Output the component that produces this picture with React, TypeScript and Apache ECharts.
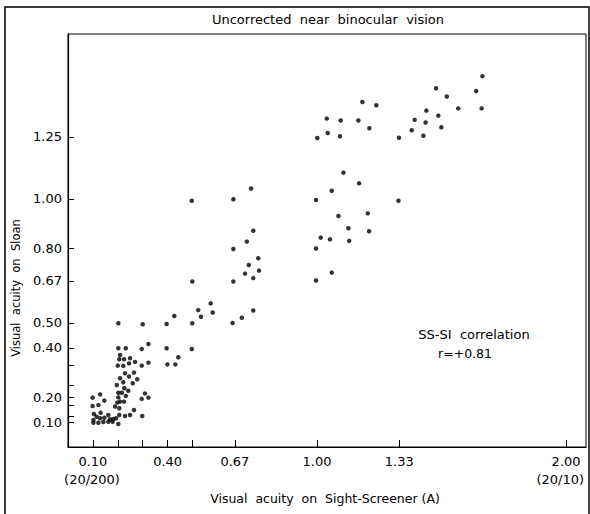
import React, { useEffect, useRef } from "react";
import * as echarts from "echarts";

// Sight-Screener (x) vs Sloan (y) acuity
const lowCluster: number[][] = [
  [0.099, 0.199], [0.129, 0.212], [0.146, 0.187], [0.099, 0.165], [0.122, 0.169],
  [0.104, 0.133], [0.131, 0.138], [0.115, 0.122], [0.129, 0.116], [0.146, 0.118],
  [0.162, 0.129], [0.169, 0.112], [0.182, 0.113], [0.193, 0.116], [0.206, 0.129],
  [0.229, 0.125], [0.249, 0.129], [0.298, 0.125], [0.102, 0.109], [0.102, 0.098],
  [0.122, 0.098], [0.142, 0.101], [0.162, 0.102], [0.179, 0.102], [0.202, 0.093],
];
const riseCluster: number[][] = [
  [0.202, 0.398], [0.232, 0.398], [0.296, 0.395], [0.323, 0.415], [0.209, 0.371],
  [0.206, 0.354], [0.225, 0.354], [0.249, 0.358], [0.269, 0.343], [0.323, 0.34],
  [0.2, 0.328], [0.222, 0.327], [0.245, 0.337], [0.296, 0.328], [0.229, 0.297],
  [0.265, 0.3], [0.209, 0.277], [0.245, 0.284], [0.278, 0.273], [0.222, 0.261],
  [0.196, 0.25], [0.26, 0.257], [0.226, 0.237], [0.242, 0.227], [0.202, 0.219],
  [0.216, 0.219], [0.202, 0.2], [0.232, 0.206], [0.225, 0.183], [0.209, 0.183],
  [0.198, 0.179], [0.189, 0.163], [0.206, 0.156], [0.265, 0.149], [0.296, 0.194],
  [0.309, 0.216], [0.323, 0.199],
];
const midCluster: number[][] = [
  [0.396, 0.398], [0.497, 0.395], [0.399, 0.333], [0.431, 0.333], [0.443, 0.362],
  [0.202, 0.499], [0.3, 0.495], [0.396, 0.496], [0.499, 0.499], [0.427, 0.528],
  [0.523, 0.552], [0.534, 0.525], [0.573, 0.579], [0.581, 0.542], [0.744, 0.55],
  [0.698, 0.521], [0.661, 0.5], [0.499, 0.667], [0.664, 0.667], [0.744, 0.681],
  [0.711, 0.699], [0.767, 0.711], [0.726, 0.734], [0.764, 0.761], [0.664, 0.798],
  [0.718, 0.828], [0.744, 0.872], [0.497, 0.993], [0.664, 0.999], [0.735, 1.042],
];
const highCluster: number[][] = [
  [0.996, 0.671], [1.059, 0.703], [0.996, 0.8], [1.015, 0.844], [1.052, 0.837],
  [1.129, 0.831], [1.126, 0.882], [1.209, 0.87], [1.086, 0.931], [1.204, 0.942],
  [0.996, 0.996], [1.059, 1.033], [1.169, 1.063], [1.106, 1.106], [1.327, 0.993],
  [1.001, 1.246], [1.043, 1.266], [1.092, 1.253], [1.039, 1.324], [1.095, 1.316],
  [1.166, 1.316], [1.182, 1.391], [1.238, 1.378], [1.21, 1.285], [1.329, 1.247],
  [1.38, 1.277], [1.392, 1.319], [1.427, 1.255], [1.436, 1.308], [1.439, 1.356],
  [1.487, 1.336], [1.499, 1.289], [1.478, 1.446], [1.521, 1.413], [1.567, 1.365],
  [1.639, 1.435], [1.664, 1.495], [1.661, 1.365],
];

const xTickValues = [0.1, 0.2, 0.3, 0.4, 0.5, 0.67, 1.0, 1.33, 2.0];
const xLabelValues = [0.1, 0.4, 0.67, 1.0, 1.33, 2.0];
const yTickValues = [0.1, 0.125, 0.167, 0.2, 0.25, 0.33, 0.4, 0.5, 0.67, 0.8, 1.0, 1.25];
const yLabelValues = [0.1, 0.2, 0.4, 0.5, 0.67, 0.8, 1.0, 1.25];

const FONT = "DejaVu Sans";

export default function App() {
  const ref = useRef<HTMLDivElement>(null);
  useEffect(() => {
    if (!ref.current) return;
    const chart = echarts.init(ref.current, null, { renderer: "svg" });
    const dot = { color: "#000" };
    chart.setOption({
      animation: false,
      backgroundColor: "#fff",
      grid: {
        left: 68, right: 4, top: 34, bottom: 67,
        show: true, borderColor: "#000", borderWidth: 1, backgroundColor: "transparent",
      },
      xAxis: {
        type: "value", min: 0, max: 2.08,
        axisLine: { show: true, lineStyle: { color: "#000", width: 1.2 } },
        axisTick: { show: true, inside: true, length: 7, customValues: xTickValues, lineStyle: { color: "#000" } },
        axisLabel: {
          customValues: xLabelValues, formatter: (v: number) => v.toFixed(2),
          color: "#000", fontFamily: FONT, fontSize: 13, margin: 8,
        },
        splitLine: { show: false },
      },
      yAxis: {
        type: "value", min: 0, max: 1.665,
        axisLine: { show: true, lineStyle: { color: "#000", width: 1.2 } },
        axisTick: { show: true, inside: true, length: 6, customValues: yTickValues, lineStyle: { color: "#000" } },
        axisLabel: {
          customValues: yLabelValues, formatter: (v: number) => v.toFixed(2),
          color: "#000", fontFamily: FONT, fontSize: 13, margin: 6,
        },
        splitLine: { show: false },
      },
      series: [lowCluster, riseCluster, midCluster, highCluster].map((d) => ({
        type: "scatter", data: d, symbol: "circle", symbolSize: 4.5, itemStyle: dot,
      })),
      graphic: [
        { type: "rect", shape: { x: 5, y: 7, width: 584, height: 520 }, style: { fill: "none", stroke: "#000", lineWidth: 1.5 }, silent: true },
        { type: "text", x: 328, y: 19, style: { text: "Uncorrected  near  binocular  vision", font: `13px "${FONT}"`, fill: "#000", textAlign: "center", textVerticalAlign: "middle" } },
        { type: "text", x: 16, y: 288, rotation: Math.PI / 2, style: { text: "Visual  acuity  on  Sloan", font: `11.5px "${FONT}"`, fill: "#000", textAlign: "center", textVerticalAlign: "middle" } },
        { type: "text", x: 325, y: 498, style: { text: "Visual  acuity  on  Sight-Screener (A)", font: `12.5px "${FONT}"`, fill: "#000", textAlign: "center", textVerticalAlign: "middle" } },
        { type: "text", x: 92, y: 479, style: { text: "(20/200)", font: `13px "${FONT}"`, fill: "#000", textAlign: "center", textVerticalAlign: "middle" } },
        { type: "text", x: 584, y: 479, style: { text: "(20/10)", font: `13px "${FONT}"`, fill: "#000", textAlign: "right", textVerticalAlign: "middle" } },
        { type: "text", x: 474, y: 334, style: { text: "SS-SI  correlation", font: `13px "${FONT}"`, fill: "#000", textAlign: "center", textVerticalAlign: "middle" } },
        { type: "text", x: 465, y: 353, style: { text: "r=+0.81", font: `12.5px "${FONT}"`, fill: "#000", textAlign: "center", textVerticalAlign: "middle" } },
      ],
    });
    return () => chart.dispose();
  }, []);
  return <div ref={ref} style={{ position: "fixed", left: 0, top: 0, width: 590, height: 514 }} />;
}
